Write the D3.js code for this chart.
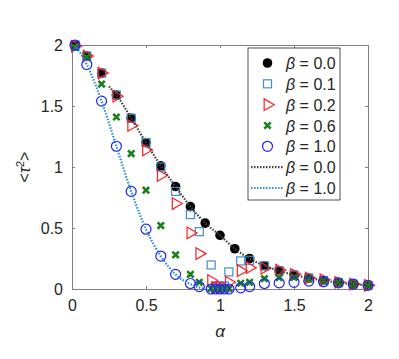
<!DOCTYPE html>
<head>
    <meta charset="utf-8">
    <title>tau2 vs alpha</title>
    <style>
        body { margin: 0; background: #fff; }
        text { font-family: "Liberation Sans", Arial, sans-serif; fill: #262626; }
    </style>
    <script src="https://d3js.org/d3.v7.min.js"></script>
</head>
<body>
    <script>
        // alpha grids
        var alphaUniform = [0.02, 0.1, 0.2, 0.3, 0.4, 0.5, 0.6, 0.7, 0.8, 0.9, 1.0,
                            1.1, 1.2, 1.3, 1.4, 1.5, 1.6, 1.7, 1.8, 1.9, 2.0];
        var alphaGrid = [0.02, 0.1, 0.2, 0.3, 0.4, 0.5, 0.6, 0.7, 0.8, 0.86, 0.94, 0.97, 1.0,
                         1.03, 1.06, 1.14, 1.2, 1.3, 1.4, 1.5, 1.6, 1.7, 1.8, 1.9, 2.0];

        // <tau^2> values
        var tauB00 = [2.0, 1.91, 1.77, 1.59, 1.40, 1.20, 1.01, 0.84, 0.675, 0.54, 0.44,
                      0.33, 0.25, 0.19, 0.15, 0.115, 0.09, 0.07, 0.052, 0.04, 0.03];
        var tauB01 = [2.0, 1.91, 1.77, 1.59, 1.40, 1.20, 1.0, 0.80, 0.61, 0.47, 0.197, 0.025, 0.025,
                      0.025, 0.14, 0.23, 0.235, 0.19, 0.15, 0.115, 0.09, 0.07, 0.052, 0.04, 0.03];
        var tauB02 = [1.99, 1.91, 1.77, 1.58, 1.34, 1.14, 0.93, 0.70, 0.46, 0.29, 0.07, 0.01, 0.01,
                      0.01, 0.055, 0.15, 0.175, 0.17, 0.155, 0.12, 0.09, 0.075, 0.055, 0.04, 0.03];
        var tauB06 = [1.98, 1.90, 1.68, 1.41, 1.11, 0.81, 0.52, 0.28, 0.12, 0.055, 0.005, 0.005, 0.005,
                      0.005, 0.005, 0.047, 0.055, 0.085, 0.092, 0.095, 0.085, 0.07, 0.055, 0.04, 0.03];
        var tauB10 = [2.0, 1.84, 1.54, 1.17, 0.80, 0.49, 0.27, 0.12, 0.045, 0.02, 0, 0, 0,
                      0, 0, 0.01, 0.02, 0.045, 0.05, 0.055, 0.065, 0.06, 0.05, 0.04, 0.03];

        // theory curves
        var theoryAlpha0 = [0.25, 0.3, 0.4, 0.5, 0.6, 0.7, 0.8, 0.9, 1.0, 1.1, 1.2,
                            1.3, 1.4, 1.5, 1.6, 1.7, 1.8, 1.9, 2.0];
        var theoryB00 = [1.66, 1.59, 1.40, 1.20, 1.01, 0.84, 0.675, 0.54, 0.44, 0.33, 0.25,
                         0.19, 0.15, 0.115, 0.09, 0.07, 0.052, 0.04, 0.03];
        var theoryAlpha1 = [0.02, 0.1, 0.2, 0.3, 0.4, 0.5, 0.6, 0.7, 0.8, 0.9];
        var theoryB10 = [2.0, 1.84, 1.54, 1.17, 0.80, 0.49, 0.27, 0.12, 0.04, 0.0];

        var xTicks = [0, 0.5, 1, 1.5, 2];
        var yTicks = [0, 0.5, 1, 1.5, 2];
        var legendLabels = ["0.0", "0.1", "0.2", "0.6", "1.0", "0.0", "1.0"];

        var margin = { top: 45, right: 31, bottom: 70, left: 72 },
            width = 399 - margin.left - margin.right,
            height = 359 - margin.top - margin.bottom;

        var x = d3.scaleLinear().domain([0, 2]).range([0, width]);
        var y = d3.scaleLinear().domain([0, 2]).range([height, 0]);

        var svg = d3.select("body").append("svg")
            .attr("width", 399)
            .attr("height", 359);

        var plot = svg.append("g")
            .attr("transform", "translate(" + margin.left + "," + margin.top + ")");

        // axes with inward ticks, MATLAB style box
        var axisColor = "#808080";
        function styleAxis(g, showText) {
            g.select(".domain").attr("stroke", axisColor);
            g.selectAll(".tick line").attr("stroke", axisColor);
            g.selectAll(".tick text").attr("font-size", "16px").attr("fill", "#262626")
                .style("display", showText ? null : "none");
        }
        plot.append("g").attr("transform", "translate(0," + height + ")")
            .call(d3.axisBottom(x).tickValues(xTicks).tickFormat(d3.format("")).tickSizeInner(-3).tickSizeOuter(0).tickPadding(11))
            .call(styleAxis, true);
        plot.append("g")
            .call(d3.axisTop(x).tickValues(xTicks).tickSizeInner(-3).tickSizeOuter(0))
            .call(styleAxis, false);
        plot.append("g")
            .call(d3.axisLeft(y).tickValues(yTicks).tickFormat(d3.format("")).tickSizeInner(-3).tickSizeOuter(0).tickPadding(9))
            .call(styleAxis, true);
        plot.append("g").attr("transform", "translate(" + width + ",0)")
            .call(d3.axisRight(y).tickValues(yTicks).tickSizeInner(-3).tickSizeOuter(0))
            .call(styleAxis, false);

        // axis labels
        svg.append("text")
            .attr("x", margin.left + width / 2)
            .attr("y", 337)
            .attr("text-anchor", "middle")
            .attr("font-size", "17px")
            .attr("font-style", "italic")
            .attr("font-family", "'DejaVu Serif', serif")
            .text("α");

        var yl = svg.append("text")
            .attr("transform", "translate(30," + (margin.top + height / 2) + ") rotate(-90)")
            .attr("text-anchor", "middle")
            .attr("font-size", "16px");
        yl.append("tspan").text("<");
        yl.append("tspan").attr("font-style", "italic").text("τ");
        yl.append("tspan").attr("dy", -6).attr("font-size", "11px").text("2");
        yl.append("tspan").attr("dy", 6).text(">");

        function pairs(xs, ys) { return xs.map(function (v, i) { return { a: v, t: ys[i] }; }); }

        var marks = plot.append("g");

        marks.selectAll(".b00").data(pairs(alphaUniform, tauB00)).enter()
            .append("circle")
            .attr("cx", d => x(d.a)).attr("cy", d => y(d.t))
            .attr("r", 4.8).attr("fill", "#000");

        marks.selectAll(".b01").data(pairs(alphaGrid, tauB01)).enter()
            .append("rect")
            .attr("x", d => x(d.a) - 4).attr("y", d => y(d.t) - 4)
            .attr("width", 8).attr("height", 8)
            .attr("fill", "none").attr("stroke", "#3f8fd2").attr("stroke-width", 1.2);

        var tri = d3.symbol(d3.symbolTriangle, 58);
        marks.selectAll(".b02").data(pairs(alphaGrid, tauB02)).enter()
            .append("path")
            .attr("d", tri)
            .attr("transform", d => "translate(" + x(d.a) + "," + y(d.t) + ") rotate(90)")
            .attr("fill", "none").attr("stroke", "#ff2020").attr("stroke-width", 1.2);

        var cross = d3.symbol(d3.symbolX, 28);
        marks.selectAll(".b06").data(pairs(alphaGrid, tauB06)).enter()
            .append("path")
            .attr("d", cross)
            .attr("transform", d => "translate(" + x(d.a) + "," + y(d.t) + ")")
            .attr("fill", "none").attr("stroke", "#1a801a").attr("stroke-width", 2.6);

        marks.selectAll(".b10").data(pairs(alphaGrid, tauB10)).enter()
            .append("circle")
            .attr("cx", d => x(d.a)).attr("cy", d => y(d.t))
            .attr("r", 5).attr("fill", "none").attr("stroke", "#2020ff").attr("stroke-width", 1.2);

        var line = d3.line().x(d => x(d.a)).y(d => y(d.t)).curve(d3.curveMonotoneX);
        plot.append("path")
            .attr("d", line(pairs(theoryAlpha0, theoryB00)))
            .attr("fill", "none").attr("stroke", "#404040")
            .attr("stroke-width", 2.2).attr("stroke-dasharray", "1.5,1.5");
        plot.append("path")
            .attr("d", line(pairs(theoryAlpha1, theoryB10)))
            .attr("fill", "none").attr("stroke", "#2a8ed8")
            .attr("stroke-width", 2.2).attr("stroke-dasharray", "1.5,1.5");

        // legend
        var leg = svg.append("g").attr("transform", "translate(248,48)");
        leg.append("rect").attr("width", 92).attr("height", 152)
            .attr("fill", "#fff").attr("stroke", "#262626").attr("stroke-width", 0.8);

        var rowY = d3.scalePoint().domain(d3.range(legendLabels.length)).range([15, 140]);
        var mx = 19.5;
        var rows = leg.selectAll(".row").data(legendLabels).enter().append("g")
            .attr("transform", (d, i) => "translate(0," + rowY(i) + ")");

        rows.each(function (d, i) {
            var g = d3.select(this);
            if (i === 0) g.append("circle").attr("cx", mx).attr("r", 4.8).attr("fill", "#000");
            if (i === 1) g.append("rect").attr("x", mx - 4).attr("y", -4).attr("width", 8).attr("height", 8)
                .attr("fill", "none").attr("stroke", "#3f8fd2").attr("stroke-width", 1.2);
            if (i === 2) g.append("path").attr("d", tri).attr("transform", "translate(" + mx + ",0) rotate(90)")
                .attr("fill", "none").attr("stroke", "#ff2020").attr("stroke-width", 1.2);
            if (i === 3) g.append("path").attr("d", cross).attr("transform", "translate(" + mx + ",0)")
                .attr("fill", "none").attr("stroke", "#1a801a").attr("stroke-width", 2.6);
            if (i === 4) g.append("circle").attr("cx", mx).attr("r", 5)
                .attr("fill", "none").attr("stroke", "#2020ff").attr("stroke-width", 1.2);
            if (i === 5 || i === 6) g.append("line").attr("x1", 3).attr("x2", 36)
                .attr("stroke", i === 5 ? "#404040" : "#2a8ed8")
                .attr("stroke-width", 2.2).attr("stroke-dasharray", "1.5,1.5");
            var t = g.append("text").attr("x", 38).attr("y", 6).attr("font-size", "16px");
            t.append("tspan").attr("font-style", "italic").text("β");
            t.append("tspan").text(" = " + d);
        });
    </script>
</body>
